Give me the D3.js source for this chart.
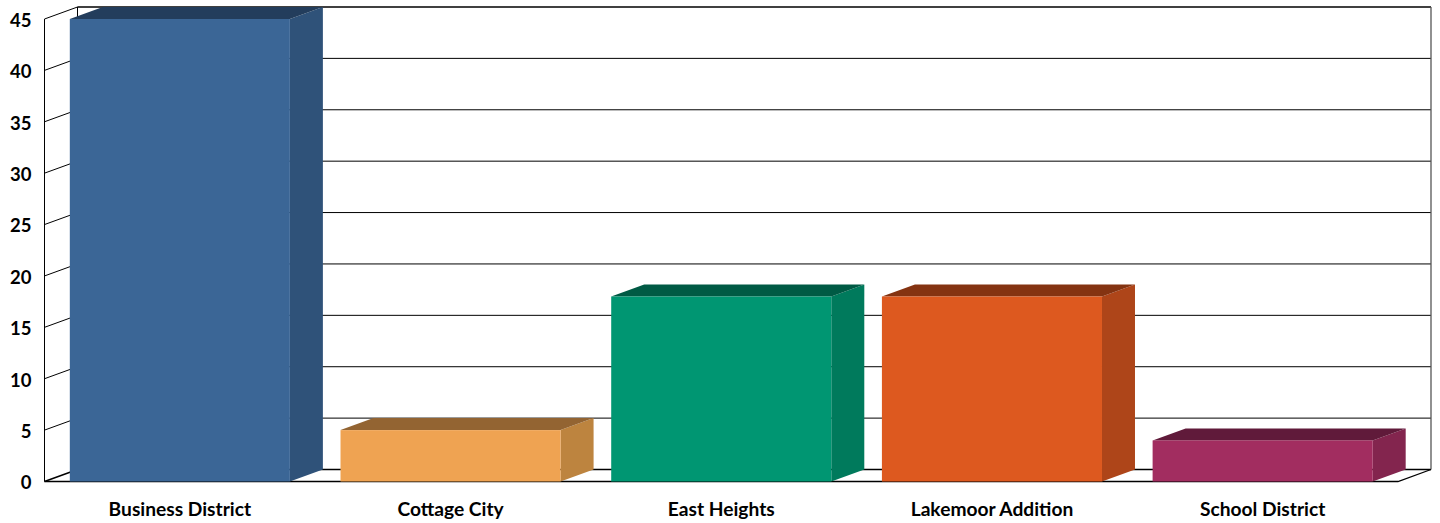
<!DOCTYPE html>
<html>
<head>
<meta charset="utf-8">
<script src="https://cdn.jsdelivr.net/npm/d3@7"></script>
<style>
  html, body { margin: 0; padding: 0; background: #fff; }
  svg { display: block; }
  text { font-family: Lato, sans-serif; font-weight: 700; fill: #000; }
</style>
</head>
<body>
<script>
const categories = ["Business District", "Cottage City", "East Heights", "Lakemoor Addition", "School District"];
const values = [45, 5, 18, 18, 4];
const yTicks = [0, 5, 10, 15, 20, 25, 30, 35, 40, 45];
const frontColors = ["#3b6696", "#efa352", "#009672", "#dd591f", "#a22d60"];
const sideColors = ["#2f5279", "#bd843f", "#007a5c", "#ae4519", "#83254e"];
const topColors = ["#233d5c", "#936432", "#005a44", "#843311", "#601a3a"];

const width = 1440, height = 523;
// the fake 3d: everything on the back wall is shifted by this much
const depthX = 33, depthY = -12;

const x = d3.scaleBand()
  .domain(categories)
  .range([44.5, 1398])
  .paddingInner(0.187)
  .paddingOuter(0.0935);

const y = d3.scaleLinear()
  .domain([0, 45])
  .range([481.5, 19]);

const svg = d3.select("body").append("svg")
  .attr("width", width)
  .attr("height", height);

const x0 = x.range()[0], x1 = x.range()[1];
const line = d3.line();

// back wall grid lines and left wall diagonals
const grid = svg.append("g").attr("fill", "none").attr("stroke", "#000");

grid.selectAll(".back")
  .data(yTicks)
  .join("line")
  .attr("class", "back")
  .attr("x1", x0 + depthX)
  .attr("x2", x1 + depthX)
  .attr("y1", d => y(d) + depthY)
  .attr("y2", d => y(d) + depthY)
  .attr("stroke-width", d => (d === 0 || d === 45) ? 1.5 : 1);

grid.selectAll(".side")
  .data(yTicks)
  .join("line")
  .attr("class", "side")
  .attr("x1", x0)
  .attr("x2", x0 + depthX)
  .attr("y1", d => y(d))
  .attr("y2", d => y(d) + depthY)
  .attr("stroke-width", d => d === 0 ? 1.5 : 1);

// wall edges
grid.append("path")
  .attr("stroke-width", 1)
  .attr("d", line([[x0, y(0)], [x0, y(45)]]));
grid.append("path")
  .attr("stroke-width", 1)
  .attr("d", line([[x0 + depthX, y(0) + depthY], [x0 + depthX, y(45) + depthY]]));
grid.append("path")
  .attr("stroke", "#555")
  .attr("stroke-width", 1.3)
  .attr("d", line([[x1 + depthX, y(0) + depthY], [x1 + depthX, y(45) + depthY]]));
// floor
grid.append("path")
  .attr("stroke-width", 1.3)
  .attr("d", line([[x0, y(0)], [x1, y(0)], [x1 + depthX, y(0) + depthY]]));

// bars
const bars = svg.append("g").selectAll("g")
  .data(categories)
  .join("g");

bars.append("path")
  .attr("fill", (d, i) => sideColors[i])
  .attr("d", (d, i) => {
    const r = x(d) + x.bandwidth();
    return line([[r, y(values[i])], [r + depthX, y(values[i]) + depthY], [r + depthX, y(0) + depthY], [r, y(0)]]) + "Z";
  });

bars.append("path")
  .attr("fill", (d, i) => topColors[i])
  .attr("d", (d, i) => {
    const l = x(d), r = l + x.bandwidth(), t = y(values[i]);
    return line([[l, t], [l + depthX, t + depthY], [r + depthX, t + depthY], [r, t]]) + "Z";
  });

bars.append("rect")
  .attr("fill", (d, i) => frontColors[i])
  .attr("x", d => x(d))
  .attr("y", (d, i) => y(values[i]))
  .attr("width", x.bandwidth())
  .attr("height", (d, i) => y(0) - y(values[i]));

// axes, only the labels are kept
const yAxis = d3.axisLeft(y).tickValues(yTicks).tickSize(0).tickPadding(13);
const gy = svg.append("g").attr("transform", `translate(${x0},1.5)`).call(yAxis);
gy.select(".domain").remove();
gy.selectAll("text").style("font-size", "18.5px").style("font-family", "Lato, sans-serif");

const xAxis = d3.axisBottom(x).tickSize(0).tickPadding(21);
const gx = svg.append("g").attr("transform", `translate(0,${y(0)})`).call(xAxis);
gx.select(".domain").remove();
gx.selectAll("text").style("font-size", "19.2px").style("font-family", "Lato, sans-serif");
</script>
</body>
</html>
